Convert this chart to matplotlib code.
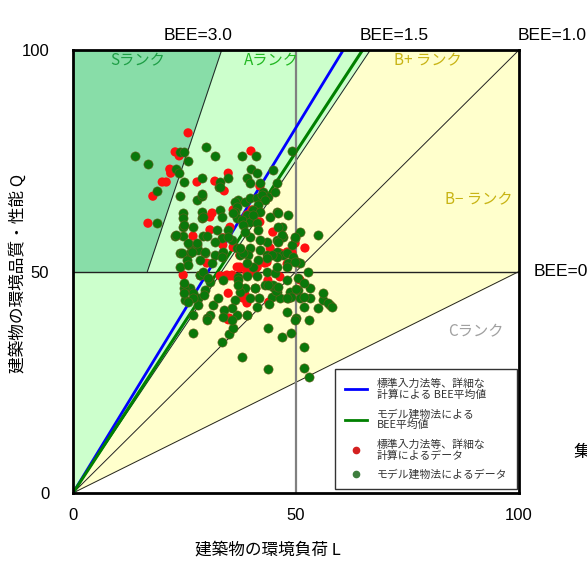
import numpy as np
import matplotlib.pyplot as plt
from matplotlib.lines import Line2D

plt.rcParams['font.family'] = ['Noto Sans CJK JP', 'DejaVu Sans']

# rank boundaries (BEE = Q / L)
bee_lines = [3.0, 1.5, 1.0, 0.5]
bee_avg_detail = 1.65   # 標準入力法等
bee_avg_model = 1.54    # モデル建物法

# 標準入力法等、詳細な計算によるデータ (L, Q)
red_L = [25.8, 22.9, 23.8, 21.7, 21.9, 20.0, 20.9, 27.8, 31.8, 17.9, 39.9, 34.8,
         33.9, 16.8, 30.7, 31.2, 40.1, 41.9, 52.0, 48.0, 44.8, 26.9, 30.7, 35.2,
         33.6, 37.4, 44.2, 30.0, 24.7, 39.0, 41.5, 49.8, 46.4, 49.1, 43.0, 40.8,
         46.4, 48.0, 36.8, 37.4, 39.0, 41.3, 35.9, 33.6, 34.5, 35.7, 34.8, 38.6,
         39.0, 48.9, 50.9, 43.9, 38.1, 35.0, 35.2, 35.9, 33.0, 37.4, 39.0, 41.9,
         43.5, 43.7, 46.2, 41.9, 35.9, 34.8]
red_Q = [81.3, 77.0, 76.1, 73.1, 72.2, 70.2, 70.2, 70.2, 70.4, 67.0, 77.2, 72.2,
         68.2, 60.9, 62.3, 63.2, 63.9, 61.2, 55.3, 54.4, 58.9, 58.0, 59.4, 60.0,
         56.0, 53.7, 55.3, 51.9, 49.2, 62.8, 60.9, 56.4, 54.2, 54.2, 51.9, 49.7,
         48.8, 51.7, 51.0, 50.8, 49.7, 51.0, 55.5, 57.6, 49.2, 49.2, 45.1, 44.7,
         42.9, 45.1, 48.1, 43.1, 44.0, 39.5, 49.0, 49.0, 49.0, 51.0, 51.0, 52.1,
         52.1, 48.0, 53.5, 69.3, 63.9, 39.1]

# モデル建物法によるデータ (L, Q)
green_L = [13.9, 16.8, 24.0, 24.9, 25.8, 23.0, 23.8, 24.9, 28.9, 29.8, 31.8, 32.7,
           18.8, 24.0, 27.8, 28.9, 37.9, 41.0, 49.1, 39.9, 41.3, 34.8, 33.0, 33.0,
           39.0, 39.7, 41.9, 44.8, 45.7, 42.6, 43.7, 45.3, 28.9, 37.0, 18.8,
           24.7, 24.7, 28.9, 28.9, 33.0, 33.4, 36.3, 36.8, 38.6, 39.7, 41.3, 42.4,
           43.0, 41.5, 40.4, 41.9, 39.0, 36.3, 36.8, 37.9, 39.7, 38.1, 41.3, 44.2,
           45.7, 46.9, 48.2, 50.9, 49.8, 49.1, 47.1, 45.7, 43.5, 41.9, 39.7, 38.6,
           22.9, 24.7, 26.9, 24.7, 29.1, 30.0, 32.3, 33.4, 31.8, 34.8, 35.7, 26.2,
           27.8, 24.0, 26.2, 28.0, 29.6, 31.8, 33.6, 36.8, 37.4, 39.7, 39.2, 41.9,
           43.5, 45.7, 47.1,
           24.9, 29.1, 23.1, 25.8, 27.8, 24.4, 26.7, 29.6, 25.6, 28.5, 31.2, 28.5,
           26.2, 25.1, 28.0, 29.6, 30.7,
           35.9, 40.4, 46.0, 41.5, 46.0, 54.9, 46.9, 49.8, 46.0, 48.0, 49.3, 50.2,
           50.9, 45.7, 48.2, 44.6, 43.5, 41.5, 40.4, 43.5, 45.3, 52.7, 50.4, 39.0,
           38.1, 37.4, 34.8, 33.4, 37.0, 38.6, 40.8, 43.0, 44.8, 45.7, 44.6, 46.4,
           48.2, 48.7, 50.4, 53.1, 53.1, 56.1, 57.6, 54.9, 50.9, 36.3, 41.3,
           26.9, 33.4, 35.0, 35.9, 37.9, 43.7, 43.7, 46.9, 48.9, 51.8, 52.9, 50.0,
           51.8, 51.8, 51.8, 50.0, 48.9, 48.0, 45.5, 43.9, 44.8, 41.7, 40.8, 39.7,
           37.4, 39.0, 36.8, 35.6, 35.6, 33.9, 30.7, 30.0, 31.4, 32.5, 29.4, 26.9,
           24.9, 24.9, 24.9, 28.0, 26.9, 25.8, 24.0, 25.8, 28.5, 29.1, 30.3, 33.6,
           37.0, 37.0, 39.0, 41.3, 43.7, 46.0, 49.8, 48.0, 45.7, 48.0,
           48.0, 49.8, 52.9, 56.1, 57.2, 58.1, 51.8, 26.9, 30.0, 33.6, 39.0]
green_Q = [76.1, 74.3, 77.0, 77.0, 74.9, 73.1, 72.2, 70.2, 71.1, 78.1, 76.1, 69.1,
           68.2, 67.0, 66.1, 67.0, 76.1, 76.1, 77.2, 73.1, 72.2, 71.1, 70.2, 69.1,
           71.1, 70.0, 70.0, 72.9, 70.0, 67.9, 66.8, 67.9, 67.5, 66.1, 60.9,
           63.2, 62.1, 63.4, 62.1, 63.9, 62.3, 65.7, 64.6, 65.7, 66.6, 66.6, 67.3,
           66.1, 65.0, 63.9, 63.4, 62.8, 63.4, 62.1, 61.6, 61.2, 60.5, 60.9, 62.3,
           63.4, 60.0, 62.8, 58.9, 57.6, 56.0, 57.8, 57.1, 56.7, 57.1, 57.8, 58.9,
           58.0, 60.0, 60.0, 58.0, 58.0, 58.0, 59.4, 57.6, 56.7, 59.4, 57.1, 56.0,
           56.0, 54.2, 54.2, 54.9, 54.2, 53.7, 54.4, 55.3, 53.7, 55.3, 53.7, 54.9,
           53.7, 54.4, 53.7,
           60.5, 62.3, 58.2, 56.4, 56.4, 54.2, 54.4, 54.4, 52.6, 52.6, 51.9, 49.2,
           46.3, 43.6, 44.0, 45.8, 47.6,
           63.2, 62.8, 63.2, 59.4, 60.0, 58.2, 58.2, 57.8, 56.7, 54.2, 53.3, 52.1,
           51.9, 53.3, 51.9, 53.7, 53.0, 52.6, 51.0, 49.9, 49.7, 49.9, 48.5, 51.9,
           54.2, 55.3, 57.8, 53.3, 48.8, 46.3, 46.3, 47.0, 46.5, 45.4, 44.2, 44.0,
           44.0, 45.4, 45.8, 46.3, 44.0, 43.6, 42.4, 41.8, 44.0, 43.6, 42.0,
           36.1, 34.1, 36.0, 37.2, 30.7, 28.0, 37.2, 35.2, 36.1, 33.0, 26.2, 39.5,
           42.0, 44.2, 47.4, 46.0, 44.2, 44.0, 45.6, 42.7, 47.0, 44.0, 46.3, 44.0,
           45.4, 40.2, 40.2, 41.8, 39.0, 41.3, 40.2, 39.5, 42.4, 44.0, 44.6, 45.1,
           46.3, 47.4, 45.1, 42.4, 44.0, 43.1, 51.0, 51.5, 49.2, 49.9, 48.5, 48.1,
           48.1, 47.0, 49.0, 49.0, 47.0, 46.5, 52.1, 51.0, 51.0, 48.1,
           40.9, 39.1, 39.1, 45.1, 42.9, 42.0, 28.2, 40.2, 39.1, 39.7, 40.2]

fig = plt.figure(figsize=(5.87, 5.62), dpi=100)
ax = fig.add_axes([73/587, 69/562, 446/587, 443/562])
ax.set_xlim(0, 100)
ax.set_ylim(0, 100)

# rank regions
ax.fill([0, 100, 100], [0, 0, 50], color='white', zorder=0)
ax.fill([0, 100, 100], [0, 50, 100], color='#ffffcc', zorder=0)
ax.fill([0, 100, 100/1.5], [0, 100, 100], color='#ffffcc', zorder=0)
ax.fill([0, 100/1.5, 100/3, 50/3, 0], [0, 100, 100, 50, 50], color='#ccffcc', zorder=0)
ax.fill([0, 50/3, 100/3, 0], [50, 50, 100, 100], color='#88dda8', zorder=0)

# boundary lines
ax.plot([50/3, 100/3], [50, 100], color='#222222', lw=0.7, zorder=1)
for b in bee_lines[1:]:
    x_end = min(100, 100 / b)
    ax.plot([0, x_end], [0, b * x_end], color='#222222', lw=0.7, zorder=1)
ax.axhline(50, color='#222222', lw=1.0, zorder=1)
ax.axvline(50, color='#808080', lw=1.6, zorder=1)

# average BEE lines
ax.plot([0, 100 / bee_avg_detail], [0, 100], color='#0000ff', lw=2, zorder=2)
ax.plot([0, 100 / bee_avg_model], [0, 100], color='#008000', lw=2.2, zorder=2)

# data points
ax.scatter(red_L, red_Q, s=44, color='#ff1010', edgecolors='none', zorder=3)
ax.scatter(green_L, green_Q, s=44, color='#0a780a', edgecolors='#6b5a1e',
           linewidths=0.4, zorder=4)

# rank labels
ax.text(14.6, 97.5, 'Sランク', color='#1e9e46', fontsize=11, ha='center', va='center')
ax.text(44.5, 97.5, 'Aランク', color='#22b822', fontsize=11, ha='center', va='center')
ax.text(79.5, 97.5, 'B+ ランク', color='#c8b414', fontsize=11, ha='center', va='center')
ax.text(91, 66.1, 'B\u2212 ランク', color='#c8b414', fontsize=11, ha='center', va='center')
ax.text(90.3, 36.3, 'Cランク', color='#a0a0a0', fontsize=11, ha='center', va='center')

# BEE labels outside the frame
lab_font = ['Liberation Sans', 'DejaVu Sans']
ax.text(28.0, 101.5, 'BEE=3.0', fontsize=12.5, family=lab_font, ha='center', va='bottom', clip_on=False)
ax.text(72.0, 101.5, 'BEE=1.5', fontsize=12.5, family=lab_font, ha='center', va='bottom', clip_on=False)
ax.text(99.6, 101.5, 'BEE=1.0', fontsize=12.5, family=lab_font, ha='left', va='bottom', clip_on=False)
ax.text(103.2, 50, 'BEE=0.5', fontsize=12.5, family=lab_font, ha='left', va='center', clip_on=False)
fig.text(573/587, 1 - 452/562, '集計', fontsize=12.5, ha='left', va='center')

ax.set_xticks([0, 50, 100])
ax.set_yticks([0, 50, 100])
ax.tick_params(length=0, labelsize=12, pad=11)
ax.tick_params(axis='y', pad=17)
for t in ax.get_xticklabels() + ax.get_yticklabels():
    t.set_fontfamily(lab_font)
for sp in ax.spines.values():
    sp.set_linewidth(2)
ax.set_xlabel('建築物の環境負荷 L', fontsize=12, va='center')
ax.set_ylabel('建築物の環境品質・性能 Q', fontsize=12, va='center')
ax.xaxis.set_label_coords(0.437, -0.129)
ax.yaxis.set_label_coords(-0.123, 0.495)

handles = [
    Line2D([], [], color='#0000ff', lw=2),
    Line2D([], [], color='#008000', lw=2),
    Line2D([], [], ls='none', marker='o', markersize=4.5, color='#d42020'),
    Line2D([], [], ls='none', marker='o', markersize=4.5, color='#3e7e3e'),
]
labels = ['標準入力法等、詳細な\n計算による BEE平均値',
          'モデル建物法による\nBEE平均値',
          '標準入力法等、詳細な\n計算によるデータ',
          'モデル建物法によるデータ']
leg = ax.legend(handles, labels, loc='lower right', bbox_to_anchor=(0.995, 0.008),
                fontsize=7.8, frameon=True, fancybox=False, handlelength=2.0,
                labelspacing=0.8, borderaxespad=0, handletextpad=0.9,
                borderpad=0.9)
leg.get_frame().set_edgecolor('black')
leg.get_frame().set_linewidth(1)
for t in leg.get_texts():
    t.set_linespacing(1.1)
    t.set_color('#333333')

fig.savefig('out.png', dpi=100)
